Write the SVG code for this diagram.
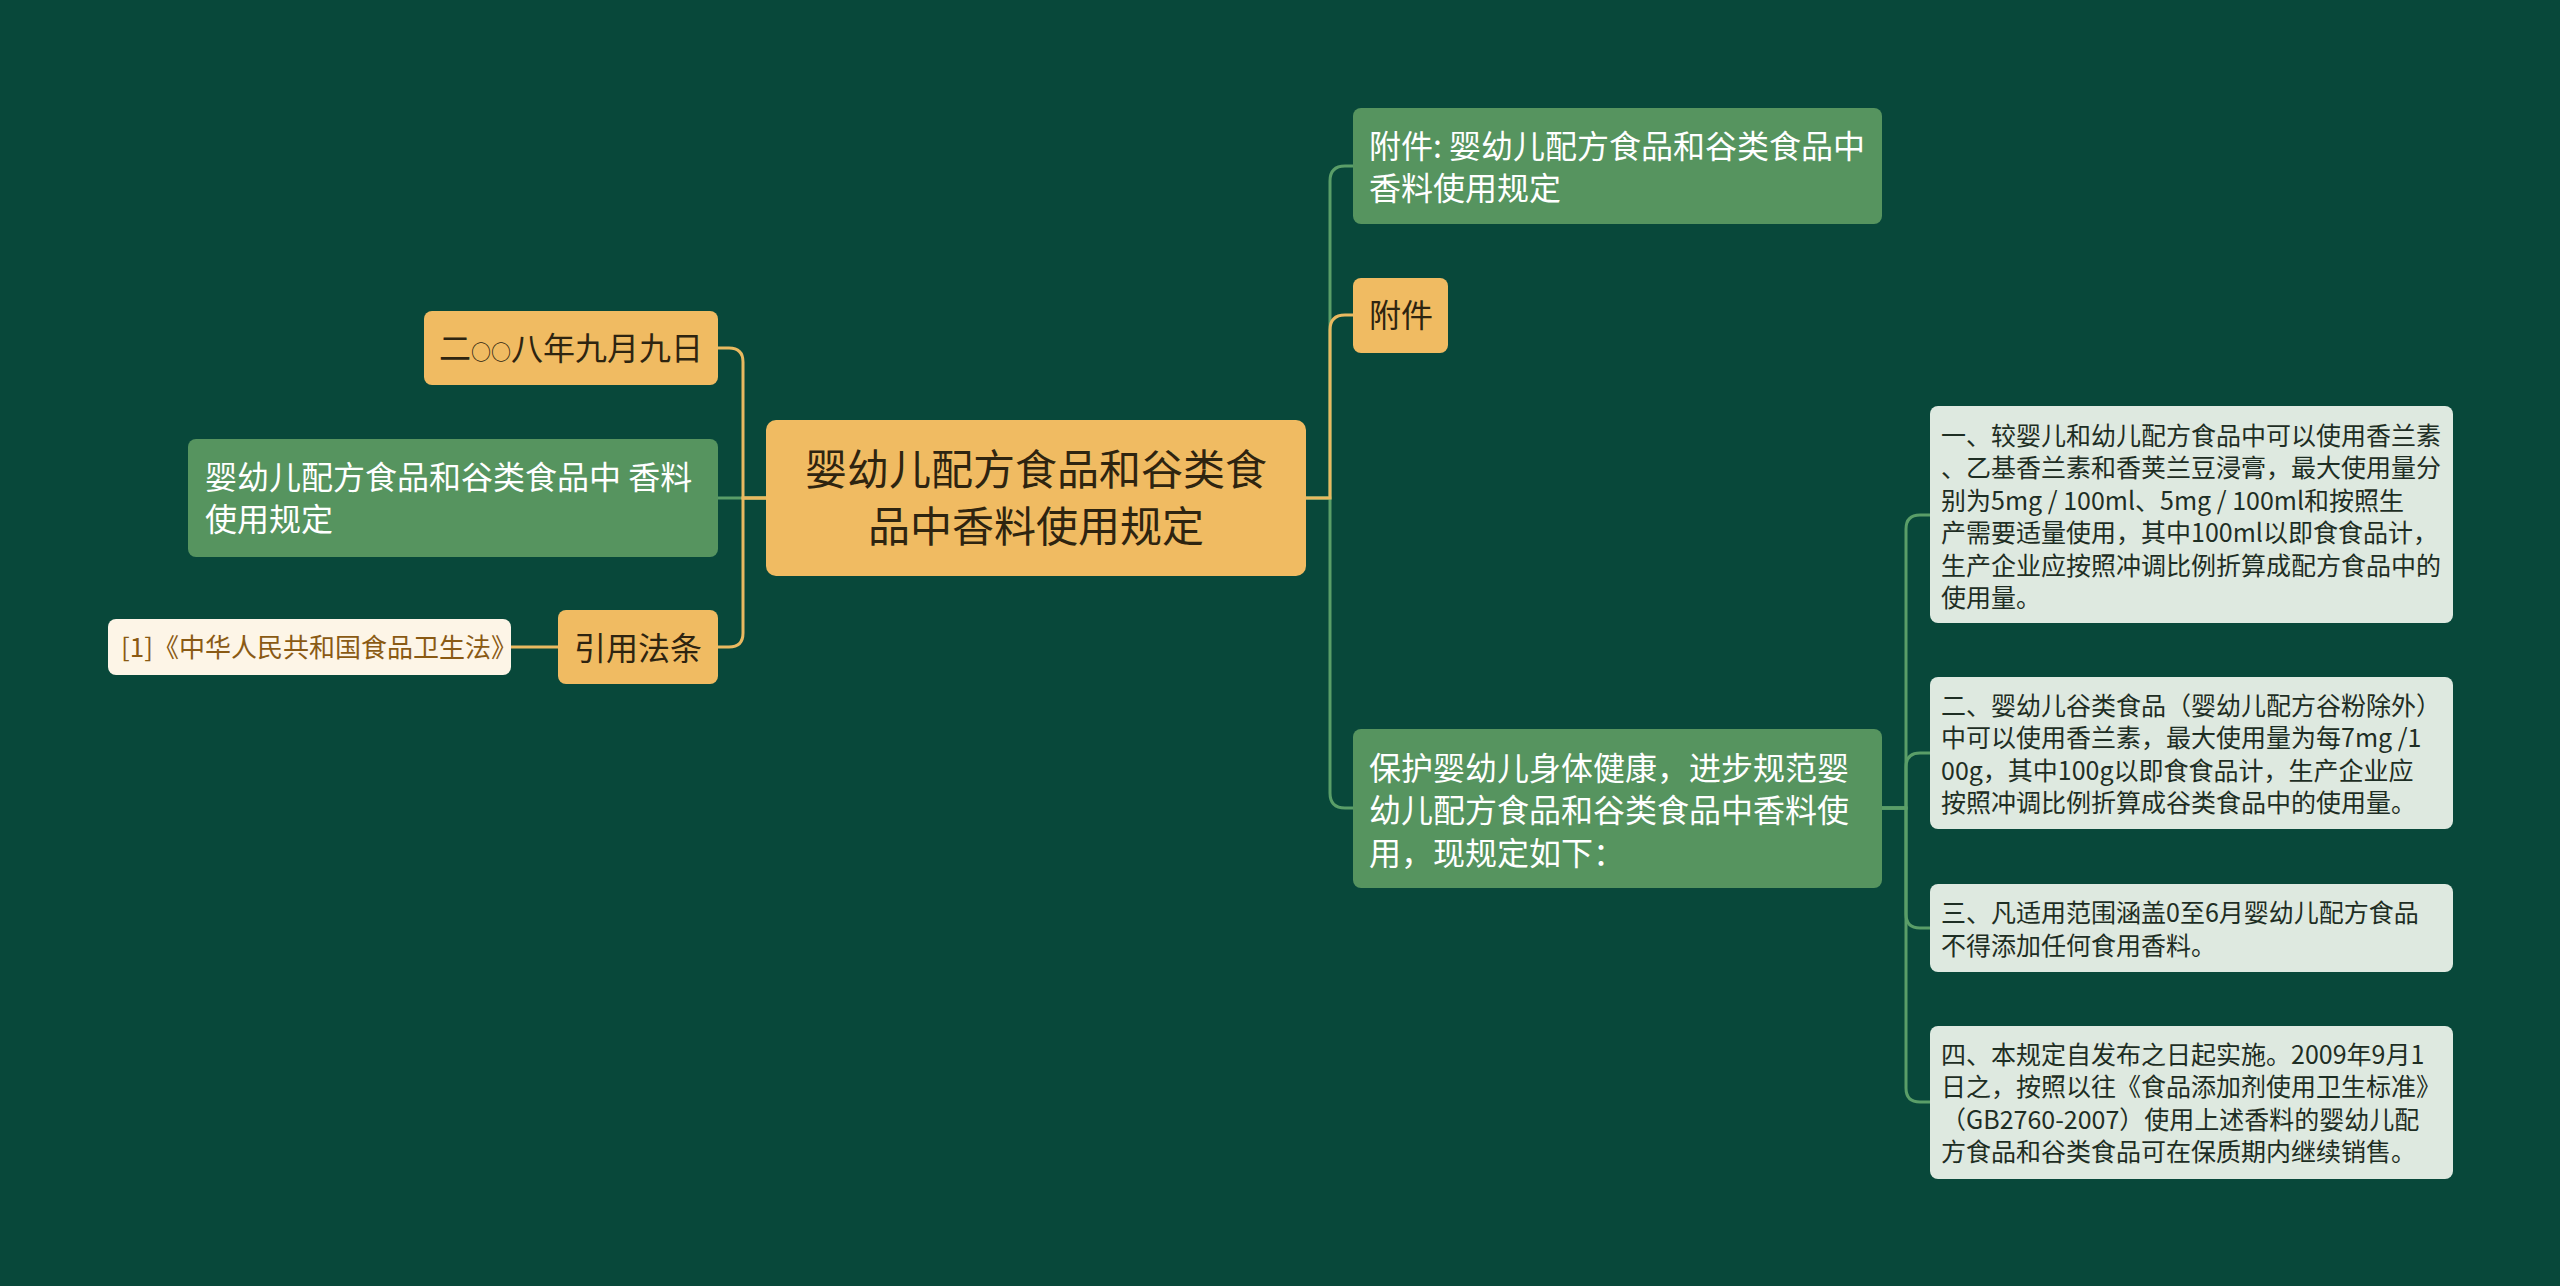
<svg xmlns="http://www.w3.org/2000/svg" width="2560" height="1286" viewBox="0 0 2560 1286">
<defs>
<style>
text{font-family:"Noto Sans CJK SC","Noto Sans",sans-serif;}
.gold{fill:#F0BB62;}
.green{fill:#56945F;}
.light{fill:#DEE9E0;}
.cream{fill:#FDF5E7;}
.tdark{fill:#2E2410;}
.twhite{fill:#FFFFFF;}
.tdetail{fill:#1E2E24;font-size:25px;}
.tcite{fill:#8A5A14;font-size:26px;}
.c-gold{fill:none;stroke:#E9B960;stroke-width:3;}
.c-green{fill:none;stroke:#5A9E68;stroke-width:3;}
</style>
</defs>
<rect x="0" y="0" width="2560" height="1286" fill="#08483A"/>
<g id="connectors">
<path class="c-green" d="M766 498 H718"/>
<path class="c-gold" d="M766 498 H743 V362 Q743 348 729 348 H718"/>
<path class="c-gold" d="M766 498 H743 V633 Q743 647 729 647 H718"/>
<path class="c-gold" d="M558 647 H511"/>
<path class="c-green" d="M1306 498 H1330 V181 Q1330 166 1345 166 H1353"/>
<path class="c-green" d="M1306 498 H1330 V793 Q1330 808 1345 808 H1353"/>
<path class="c-gold" d="M1306 498 H1330 V330 Q1330 315 1345 315 H1353"/>
<path class="c-green" d="M1882 808 H1906 V529 Q1906 515 1920 515 H1930"/>
<path class="c-green" d="M1882 808 H1906 V767 Q1906 753 1920 753 H1930"/>
<path class="c-green" d="M1882 808 H1906 V914 Q1906 928 1920 928 H1930"/>
<path class="c-green" d="M1882 808 H1906 V1088 Q1906 1102 1920 1102 H1930"/>
</g>
<g id="root">
<rect class="gold" x="766" y="420" width="540" height="156" rx="10"/>
<text class="tdark" font-size="42" text-anchor="middle"><tspan x="1036" y="485">婴幼儿配方食品和谷类食</tspan><tspan x="1036" y="542">品中香料使用规定</tspan></text>
</g>
<g id="node-date">
<rect class="gold" x="424" y="311" width="294" height="74" rx="8"/>
<text class="tdark" font-size="32" x="571" y="360" text-anchor="middle">二<tspan font-size="20">○○</tspan>八年九月九日</text>
</g>
<g id="node-title-left">
<rect class="green" x="188" y="439" width="530" height="118" rx="8"/>
<text class="twhite" font-size="32"><tspan x="205" y="489">婴幼儿配方食品和谷类食品中 香料</tspan><tspan x="205" y="531">使用规定</tspan></text>
</g>
<g id="node-cite">
<rect class="gold" x="558" y="610" width="160" height="74" rx="8"/>
<text class="tdark" font-size="32" x="638" y="660" text-anchor="middle">引用法条</text>
</g>
<g id="node-cite-1">
<rect class="cream" x="108" y="619" width="403" height="56" rx="8"/>
<text class="tcite" x="121" y="657">[1]《中华人民共和国食品卫生法》</text>
</g>
<g id="node-attach-title">
<rect class="green" x="1353" y="108" width="529" height="116" rx="8"/>
<text class="twhite" font-size="32"><tspan x="1369" y="158">附件: 婴幼儿配方食品和谷类食品中</tspan><tspan x="1369" y="200">香料使用规定</tspan></text>
</g>
<g id="node-attach">
<rect class="gold" x="1353" y="278" width="95" height="75" rx="8"/>
<text class="tdark" font-size="32" x="1369" y="327">附件</text>
</g>
<g id="node-protect">
<rect class="green" x="1353" y="729" width="529" height="159" rx="8"/>
<text class="twhite" font-size="32"><tspan x="1369" y="780">保护婴幼儿身体健康，进步规范婴</tspan><tspan x="1369" y="822">幼儿配方食品和谷类食品中香料使</tspan><tspan x="1369" y="865">用，现规定如下：</tspan></text>
</g>
<g id="node-rule-1">
<rect class="light" x="1930" y="406" width="523" height="217" rx="8"/>
<text class="tdetail"><tspan x="1941" y="444.5">一、较婴儿和幼儿配方食品中可以使用香兰素</tspan><tspan x="1941" y="477">、乙基香兰素和香荚兰豆浸膏，最大使用量分</tspan><tspan x="1941" y="509.5">别为5mg / 100ml、5mg / 100ml和按照生</tspan><tspan x="1941" y="542">产需要适量使用，其中100ml以即食食品计，</tspan><tspan x="1941" y="574.5">生产企业应按照冲调比例折算成配方食品中的</tspan><tspan x="1941" y="607">使用量。</tspan></text>
</g>
<g id="node-rule-2">
<rect class="light" x="1930" y="677" width="523" height="152" rx="8"/>
<text class="tdetail"><tspan x="1941" y="714.5">二、婴幼儿谷类食品（婴幼儿配方谷粉除外）</tspan><tspan x="1941" y="747">中可以使用香兰素，最大使用量为每7mg /1</tspan><tspan x="1941" y="779.5">00g，其中100g以即食食品计，生产企业应</tspan><tspan x="1941" y="812">按照冲调比例折算成谷类食品中的使用量。</tspan></text>
</g>
<g id="node-rule-3">
<rect class="light" x="1930" y="884" width="523" height="88" rx="8"/>
<text class="tdetail"><tspan x="1941" y="922">三、凡适用范围涵盖0至6月婴幼儿配方食品</tspan><tspan x="1941" y="954.5">不得添加任何食用香料。</tspan></text>
</g>
<g id="node-rule-4">
<rect class="light" x="1930" y="1026" width="523" height="153" rx="8"/>
<text class="tdetail"><tspan x="1941" y="1063.5">四、本规定自发布之日起实施。2009年9月1</tspan><tspan x="1941" y="1096">日之，按照以往《食品添加剂使用卫生标准》</tspan><tspan x="1941" y="1128.5">（GB2760-2007）使用上述香料的婴幼儿配</tspan><tspan x="1941" y="1161">方食品和谷类食品可在保质期内继续销售。</tspan></text>
</g>
</svg>
